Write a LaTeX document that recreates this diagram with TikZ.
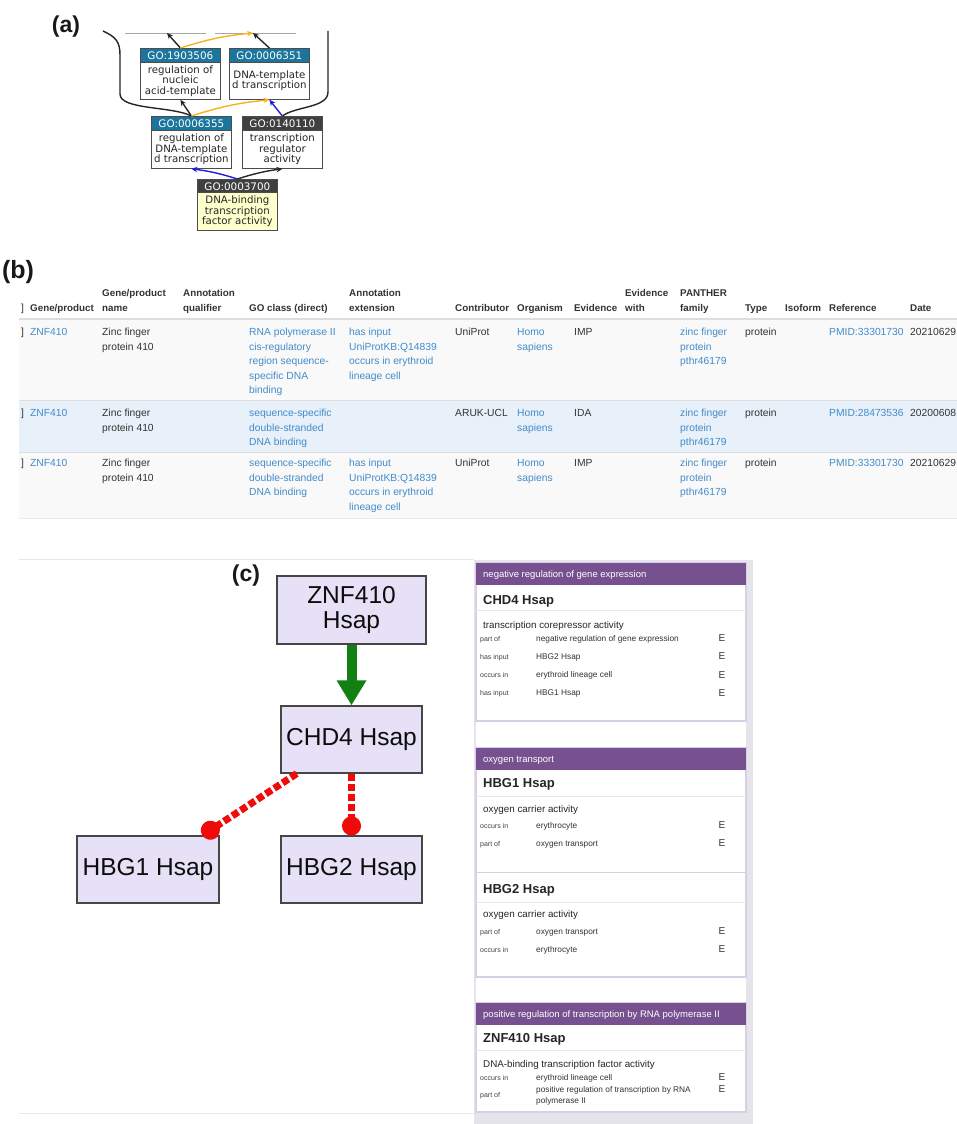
\documentclass[tikz,border=0pt]{standalone}
\usepackage{fontspec}
\setmainfont{Liberation Sans}
\newfontfamily\dejavu{DejaVu Sans}
\usetikzlibrary{arrows.meta,calc}
\definecolor{goteal}{RGB}{27,117,156}
\definecolor{godark}{RGB}{64,64,64}
\definecolor{goyellow}{RGB}{255,255,204}
\definecolor{goorange}{RGB}{245,180,30}
\definecolor{goblue}{RGB}{30,30,220}
\definecolor{linkblue}{RGB}{66,139,202}
\definecolor{txt}{RGB}{51,51,51}
\definecolor{rowgray}{RGB}{249,249,249}
\definecolor{rowblue}{RGB}{232,240,249}
\definecolor{gridline}{RGB}{221,221,221}
\definecolor{lav}{RGB}{230,225,246}
\definecolor{nodeborder}{RGB}{70,70,70}
\definecolor{okgreen}{RGB}{18,128,18}
\definecolor{inhred}{RGB}{240,10,10}
\definecolor{purp}{RGB}{118,80,143}
\definecolor{cardline}{RGB}{216,206,230}
\definecolor{panelgray}{RGB}{228,228,234}
\definecolor{sepgray}{RGB}{232,232,232}
\tikzset{
  panellabel/.style={inner sep=0pt, text=black!90, font=\fontsize{23}{26}\selectfont\bfseries},
  gohead/.style={draw=black!70, line width=0.8pt, text=white, font=\dejavu\fontsize{10.4}{11}\selectfont, inner sep=0pt, anchor=north west, minimum width=80pt, minimum height=14pt},
  gobody/.style={draw=black!70, line width=0.8pt, fill=white, text=black!85, font=\dejavu\fontsize{10.2}{10.5}\selectfont, align=center, inner sep=0pt, anchor=north west, minimum width=80pt, minimum height=37pt},
  goedge/.style={line width=1.4pt, draw=black!85, -{Stealth[length=6pt,width=5.5pt]}},
  golong/.style={line width=1.4pt, draw=black!85},
  cell/.style={anchor=base west, inner sep=0pt, align=left, font=\fontsize{10.3}{14.5}\selectfont, text=txt},
  link/.style={cell, text=linkblue},
  headcell/.style={cell, font=\fontsize{9.8}{15}\selectfont\bfseries},
  gene/.style={draw=nodeborder, line width=1.2pt, fill=lav, inner sep=0pt, align=center, text=black!95, font=\fontsize{24.5}{25.5}\selectfont},
  cardhead/.style={anchor=base west, inner sep=0pt, text=white, font=\fontsize{9.5}{11}\selectfont},
  cardtitle/.style={anchor=base west, inner sep=0pt, text=black!85, font=\fontsize{13}{15}\selectfont\bfseries},
  cardsub/.style={anchor=base west, inner sep=0pt, text=black!85, font=\fontsize{9.8}{12}\selectfont},
  rel/.style={anchor=base west, inner sep=0pt, text=black!75, font=\fontsize{7}{8}\selectfont},
  relval/.style={anchor=base west, inner sep=0pt, text=black!80, align=left, font=\fontsize{8.3}{11}\selectfont},
  evid/.style={anchor=base, inner sep=0pt, text=black!80, font=\fontsize{10}{11}\selectfont},
}
\begin{document}
\begin{tikzpicture}[x=1pt,y=-1pt]
\useasboundingbox (0,0) rectangle (957,1124);
\fill[white] (0,0) rectangle (957,1124);

% ---------------- (a) ----------------
\node[panellabel] (la) at (66,27) {(a)};
\draw[gray!70, line width=0.8pt] (125,33) -- (206,33);
\draw[gray!70, line width=0.8pt] (215,33) -- (296,33);
\coordinate (tA) at (167,33);
\coordinate (tB) at (253,33);
\coordinate (tL) at (103,31);
\coordinate (tR) at (328,31);

\node[gohead, fill=goteal] (ha) at (140,48) {GO:1903506};
\node[gobody] (ba) at (140,62) {regulation of\\nucleic\\acid-template};
\node[gohead, fill=goteal] (hb) at (229,48) {GO:0006351};
\node[gobody] (bb) at (229,62) {DNA-template\\d transcription};
\node[gohead, fill=goteal] (hc) at (151,116) {GO:0006355};
\node[gobody, minimum height=38pt] (bc) at (151,130) {regulation of\\DNA-template\\d transcription};
\node[gohead, fill=godark] (hd) at (242,116) {GO:0140110};
\node[gobody, minimum height=38pt] (bd) at (242,130) {transcription\\regulator\\activity};
\node[gohead, fill=godark] (he) at (197,179) {GO:0003700};
\node[gobody, fill=goyellow, minimum height=38pt] (be) at (197,192) {DNA-binding\\transcription\\factor activity};

\draw[goedge] (ha.north) -- (tA);
\draw[goedge, draw=goorange] (ha.north) to[bend left=6] (tB);
\draw[goedge] (hb.north) -- (tB);
\draw[golong] (tL) .. controls (116,37) and (120,42) .. (120,55) -- (120,94) .. controls (120,110) and (172,106) .. (hc.north);
\draw[golong] (tR) -- (328,92) .. controls (328,108) and (296,106) .. (hd.north);
\draw[goedge] (hc.north) -- (ba.south);
\draw[goedge, draw=goorange] (hc.north) to[bend left=6] (bb.south);
\draw[goedge, draw=goblue] (hd.north) -- (bb.south);
\draw[goedge, draw=goblue] (he.north) to[bend right=5] (bc.south);
\draw[goedge] (he.north) to[bend left=5] (bd.south);

% ---------------- (b) ----------------
\node[panellabel, font=\fontsize{25}{28}\selectfont\bfseries] (lb) at (18,272) {(b)};
\fill[rowgray] (19,319) rectangle (957,400.5);
\fill[rowblue] (19,400.5) rectangle (957,452);
\fill[rowgray] (19,452) rectangle (957,518);
\draw[gridline, line width=1.6pt] (19,319) -- (957,319);
\draw[gridline, line width=0.7pt] (19,400.5) -- (957,400.5);
\draw[gridline, line width=0.7pt] (19,452) -- (957,452);
\draw[gridline!60, line width=0.7pt] (19,518) -- (957,518);

% header (base anchor = baseline of last line)
\node[cell] (hk0) at (21,311.5) {]};
\node[headcell] (hk1) at (30,311.5) {Gene/product};
\node[headcell] (hk2) at (102,311.5) {Gene/product\\name};
\node[headcell] (hk3) at (183,311.5) {Annotation\\qualifier};
\node[headcell] (hk4) at (249,311.5) {GO class (direct)};
\node[headcell] (hk5) at (349,311.5) {Annotation\\extension};
\node[headcell] (hk6) at (455,311.5) {Contributor};
\node[headcell] (hk7) at (517,311.5) {Organism};
\node[headcell] (hk8) at (574,311.5) {Evidence};
\node[headcell] (hk9) at (625,311.5) {Evidence\\with};
\node[headcell] (hk10) at (680,311.5) {PANTHER\\family};
\node[headcell] (hk11) at (745,311.5) {Type};
\node[headcell] (hk12) at (785,311.5) {Isoform};
\node[headcell] (hk13) at (829,311.5) {Reference};
\node[headcell] (hk14) at (910,311.5) {Date};

% row 1 (first baseline 335.5, line step 14.5)
\node[cell] (ra0) at (21,335.5) {]};
\node[link] (ra1) at (30,335.5) {ZNF410};
\node[cell] (ra2) at (102,350) {Zinc finger\\protein 410};
\node[link] (ra4) at (249,393.5) {RNA polymerase II\\cis-regulatory\\region sequence-\\specific DNA\\binding};
\node[link] (ra5) at (349,379) {has input\\UniProtKB:Q14839\\occurs in erythroid\\lineage cell};
\node[cell] (ra6) at (455,335.5) {UniProt};
\node[link] (ra7) at (517,350) {Homo\\sapiens};
\node[cell] (ra8) at (574,335.5) {IMP};
\node[link] (ra10) at (680,364.5) {zinc finger\\protein\\pthr46179};
\node[cell] (ra11) at (745,335.5) {protein};
\node[link] (ra13) at (829,335.5) {PMID:33301730};
\node[cell] (ra14) at (910,335.5) {20210629};

% row 2 (first baseline 416.5)
\node[cell] (rb0) at (21,416.5) {]};
\node[link] (rb1) at (30,416.5) {ZNF410};
\node[cell] (rb2) at (102,431) {Zinc finger\\protein 410};
\node[link] (rb4) at (249,445.5) {sequence-specific\\double-stranded\\DNA binding};
\node[cell] (rb6) at (455,416.5) {ARUK-UCL};
\node[link] (rb7) at (517,431) {Homo\\sapiens};
\node[cell] (rb8) at (574,416.5) {IDA};
\node[link] (rb10) at (680,445.5) {zinc finger\\protein\\pthr46179};
\node[cell] (rb11) at (745,416.5) {protein};
\node[link] (rb13) at (829,416.5) {PMID:28473536};
\node[cell] (rb14) at (910,416.5) {20200608};

% row 3 (first baseline 466.5)
\node[cell] (rc0) at (21,466.5) {]};
\node[link] (rc1) at (30,466.5) {ZNF410};
\node[cell] (rc2) at (102,481) {Zinc finger\\protein 410};
\node[link] (rc4) at (249,495.5) {sequence-specific\\double-stranded\\DNA binding};
\node[link] (rc5) at (349,510) {has input\\UniProtKB:Q14839\\occurs in erythroid\\lineage cell};
\node[cell] (rc6) at (455,466.5) {UniProt};
\node[link] (rc7) at (517,481) {Homo\\sapiens};
\node[cell] (rc8) at (574,466.5) {IMP};
\node[link] (rc10) at (680,495.5) {zinc finger\\protein\\pthr46179};
\node[cell] (rc11) at (745,466.5) {protein};
\node[link] (rc13) at (829,466.5) {PMID:33301730};
\node[cell] (rc14) at (910,466.5) {20210629};

% ---------------- (c) left ----------------
\draw[sepgray, line width=0.8pt] (19,559) -- (474,559);
\draw[sepgray, line width=0.8pt] (19,1113) -- (474,1113);
\node[panellabel] (lc) at (246,576) {(c)};
\node[gene, minimum width=149pt, minimum height=68pt] (znf) at (351.5,610) {ZNF410\\Hsap};
\node[gene, minimum width=141pt, minimum height=67pt] (chd) at (351.5,739.5) {CHD4 Hsap};
\node[gene, minimum width=142pt, minimum height=67pt] (hbg1) at (148,869.5) {HBG1 Hsap};
\node[gene, minimum width=141pt, minimum height=67pt] (hbg2) at (351.5,869.5) {HBG2 Hsap};
\draw[okgreen, line width=10pt, -{Triangle[length=25pt,width=28pt]}] (znf.south) -- (chd.north);
\draw[inhred, line width=7pt, dash pattern=on 7pt off 3pt, -{Circle[length=19pt]}] ($(chd.south west)!0.115!(chd.south east)$) -- ($(hbg1.north west)!0.88!(hbg1.north east)$);
\draw[inhred, line width=7pt, dash pattern=on 7pt off 3pt, -{Circle[length=19pt]}] (chd.south) -- (hbg2.north);

% ---------------- (c) right ----------------
\fill[panelgray] (474,560) rectangle (753,1124);
\fill[white] (476,562) rectangle (746,1113);
% card 1
\draw[cardline, line width=1.2pt, fill=white] (476,563) rectangle (746,721);
\fill[purp] (476,563) rectangle (746,585);
\draw[sepgray, line width=0.8pt] (476,610) -- (746,610);
\node[cardhead] (c1h) at (483,577.5) {negative regulation of gene expression};
\node[cardtitle] (c1t) at (483,604.5) {CHD4 Hsap};
\node[cardsub] (c1s) at (483,628.5) {transcription corepressor activity};
\node[rel] (c1r1) at (480,641) {part of};
\node[relval] (c1v1) at (536,641) {negative regulation of gene expression};
\node[evid] (c1e1) at (722,641.5) {E};
\node[rel] (c1r2) at (480,659) {has input};
\node[relval] (c1v2) at (536,659) {HBG2 Hsap};
\node[evid] (c1e2) at (722,659.5) {E};
\node[rel] (c1r3) at (480,677.5) {occurs in};
\node[relval] (c1v3) at (536,677.5) {erythroid lineage cell};
\node[evid] (c1e3) at (722,678) {E};
\node[rel] (c1r4) at (480,695.5) {has input};
\node[relval] (c1v4) at (536,695.5) {HBG1 Hsap};
\node[evid] (c1e4) at (722,696) {E};
% card 2
\draw[cardline, line width=1.2pt, fill=white] (476,748) rectangle (746,977);
\draw[cardline, line width=1.2pt] (476,872.5) -- (746,872.5);
\fill[purp] (476,748) rectangle (746,770);
\draw[sepgray, line width=0.8pt] (476,796) -- (746,796);
\draw[sepgray, line width=0.8pt] (476,902) -- (746,902);
\node[cardhead] (c2h) at (483,762.5) {oxygen transport};
\node[cardtitle] (c2t) at (483,787.5) {HBG1 Hsap};
\node[cardsub] (c2s) at (483,812.5) {oxygen carrier activity};
\node[rel] (c2r1) at (480,828) {occurs in};
\node[relval] (c2v1) at (536,828) {erythrocyte};
\node[evid] (c2e1) at (722,828.5) {E};
\node[rel] (c2r2) at (480,846) {part of};
\node[relval] (c2v2) at (536,846) {oxygen transport};
\node[evid] (c2e2) at (722,846.5) {E};
\node[cardtitle] (c2t2) at (483,893.5) {HBG2 Hsap};
\node[cardsub] (c2s2) at (483,917.5) {oxygen carrier activity};
\node[rel] (c2r3) at (480,934) {part of};
\node[relval] (c2v3) at (536,934) {oxygen transport};
\node[evid] (c2e3) at (722,934.5) {E};
\node[rel] (c2r4) at (480,952) {occurs in};
\node[relval] (c2v4) at (536,952) {erythrocyte};
\node[evid] (c2e4) at (722,952.5) {E};
% card 3
\draw[cardline, line width=1.2pt, fill=white] (476,1003) rectangle (746,1112);
\fill[purp] (476,1003) rectangle (746,1025);
\draw[sepgray, line width=0.8pt] (476,1050) -- (746,1050);
\node[cardhead] (c3h) at (483,1017.5) {positive regulation of transcription by RNA polymerase II};
\node[cardtitle] (c3t) at (483,1042.5) {ZNF410 Hsap};
\node[cardsub] (c3s) at (483,1067.5) {DNA-binding transcription factor activity};
\node[rel] (c3r1) at (480,1080) {occurs in};
\node[relval] (c3v1) at (536,1080) {erythroid lineage cell};
\node[evid] (c3e1) at (722,1080.5) {E};
\node[rel] (c3r2) at (480,1097.5) {part of};
\node[relval] (c3v2) at (536,1103) {positive regulation of transcription by RNA\\polymerase II};
\node[evid] (c3e2) at (722,1092.5) {E};
\end{tikzpicture}
\end{document}
